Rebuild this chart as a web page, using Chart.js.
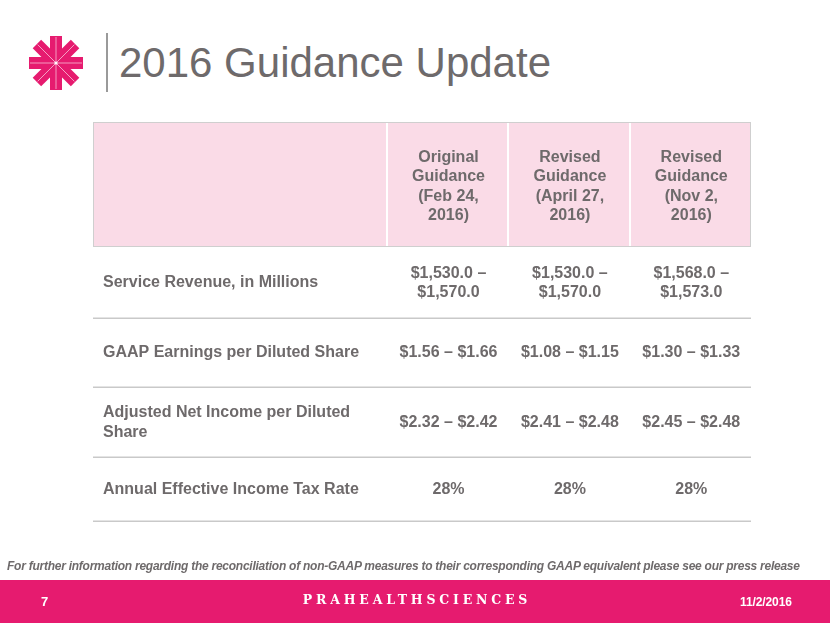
<!DOCTYPE html>
<html>
<head>
<meta charset="utf-8">
<script src="https://cdn.jsdelivr.net/npm/chart.js@4/dist/chart.umd.min.js"></script>
<style>
  html, body { margin: 0; padding: 0; }
  body { width: 830px; height: 623px; position: relative; overflow: hidden; background: #ffffff; font-family: "Liberation Sans", Arial, sans-serif; }
  #logo { position: absolute; left: 29px; top: 36px; }
  #vline { position: absolute; left: 106px; top: 33px; width: 2px; height: 59px; background: #9a9a9a; }
  #title { position: absolute; left: 119px; top: 38px; font-size: 42px; line-height: 50px; color: #6e6a6b; white-space: nowrap; }
  #chartWrap { position: absolute; left: 0; top: 0; width: 830px; height: 575px; }
  #note { position: absolute; left: 7px; top: 559px; font-size: 12px; font-weight: bold; font-style: italic; color: #6e6a6b; white-space: nowrap; letter-spacing: -0.25px; }
  #footer { position: absolute; left: 0; top: 580px; width: 830px; height: 43px; background: #e61b6f; color: #ffffff; }
  #pageNum { position: absolute; left: 41px; top: 14px; font-size: 13px; font-weight: bold; }
  #brand { position: absolute; left: 2px; width: 830px; top: 12px; text-align: center; font-family: "DejaVu Serif", serif; font-weight: bold; font-size: 12.5px; letter-spacing: 3.8px; }
  #date { position: absolute; left: 740px; top: 15px; font-size: 12px; font-weight: bold; letter-spacing: -0.1px; }
</style>
</head>
<body>
<svg id="logo" width="54" height="54" viewBox="-27 -27 54 54">
  <g fill="#e61b6f">
    <rect x="-27" y="-6" width="54" height="12" />
    <rect x="-27" y="-6" width="54" height="12" transform="rotate(45)" />
    <rect x="-27" y="-6" width="54" height="12" transform="rotate(90)" />
    <rect x="-27" y="-6" width="54" height="12" transform="rotate(135)" />
  </g>
  <g stroke="#f6a9c8" stroke-width="0.9">
    <line x1="-26" y1="0" x2="26" y2="0" />
    <line x1="-26" y1="0" x2="26" y2="0" transform="rotate(45)" />
    <line x1="-26" y1="0" x2="26" y2="0" transform="rotate(90)" />
    <line x1="-26" y1="0" x2="26" y2="0" transform="rotate(135)" />
  </g>
  <circle cx="0" cy="0" r="1.6" fill="#ffffff" />
</svg>
<div id="vline"></div>
<div id="title">2016 Guidance Update</div>
<div id="chartWrap"><canvas id="c" width="830" height="575"></canvas></div>
<div id="note">For further information regarding the reconciliation of non-GAAP measures to their corresponding GAAP equivalent please see our press release</div>
<div id="footer">
  <div id="pageNum">7</div>
  <div id="brand">PRAHEALTHSCIENCES</div>
  <div id="date">11/2/2016</div>
</div>
<script>
// ---- data ----
const columnHeaders = [
  ["Original", "Guidance", "(Feb 24,", "2016)"],
  ["Revised", "Guidance", "(April 27,", "2016)"],
  ["Revised", "Guidance", "(Nov 2,", "2016)"]
];
const rowLabels = [
  ["Service Revenue, in Millions"],
  ["GAAP Earnings per Diluted Share"],
  ["Adjusted Net Income per Diluted", "Share"],
  ["Annual Effective Income Tax Rate"]
];
const originalGuidance = [["$1,530.0 \u2013", "$1,570.0"], ["$1.56 \u2013 $1.66"], ["$2.32 \u2013 $2.42"], ["28%"]];
const aprilGuidance    = [["$1,530.0 \u2013", "$1,570.0"], ["$1.08 \u2013 $1.15"], ["$2.41 \u2013 $2.48"], ["28%"]];
const novGuidance      = [["$1,568.0 \u2013", "$1,573.0"], ["$1.30 \u2013 $1.33"], ["$2.45 \u2013 $2.48"], ["28%"]];
const valueColumns = [originalGuidance, aprilGuidance, novGuidance];

// ---- layout (table units) ----
const LABEL_W = 2.42;                 // label column width, in data-column units
const HEADER_H = 125;                 // header row height, y units
const ROW_H = [71, 69, 70, 64];       // body row heights, y units
const nCols = columnHeaders.length;
const nRows = rowLabels.length;
const X_MAX = LABEL_W + nCols;
const rowEdges = [HEADER_H];
ROW_H.forEach(h => rowEdges.push(rowEdges[rowEdges.length - 1] + h));
const Y_MAX = rowEdges[rowEdges.length - 1];

const TEXT = '#6e6a6b';
const FONT = '"Liberation Sans", Arial, sans-serif';
const LINE_H = 19.6;

function cellDataset(name, points, texts, align, dy) {
  return {
    label: name,
    data: points,
    texts: texts,
    align: align,
    dy: dy,
    pointRadius: 0,
    pointHoverRadius: 0,
    showLine: false
  };
}

const rowMid = j => (rowEdges[j] + rowEdges[j + 1]) / 2;
const datasets = [];
datasets.push(cellDataset('header',
  columnHeaders.map((h, i) => ({ x: LABEL_W + i + 0.5, y: HEADER_H / 2 })),
  columnHeaders, 'center', 2));
datasets.push(cellDataset('rows',
  rowLabels.map((r, j) => ({ x: 0, y: rowMid(j) })),
  rowLabels, 'left', 0.5));
valueColumns.forEach((col, i) => {
  datasets.push(cellDataset('col' + i,
    col.map((v, j) => ({ x: LABEL_W + i + 0.5, y: rowMid(j) })),
    col, 'center', 0.5));
});

const tablePlugin = {
  id: 'tablePlugin',
  beforeDatasetsDraw(chart) {
    const ctx = chart.ctx;
    const xs = chart.scales.x, ys = chart.scales.y;
    const left = xs.getPixelForValue(0), right = xs.getPixelForValue(X_MAX);
    const top = ys.getPixelForValue(0), hb = ys.getPixelForValue(HEADER_H);
    ctx.save();
    ctx.fillStyle = '#fadbe7';
    ctx.fillRect(left, top, right - left, hb - top);
    ctx.strokeStyle = '#cfcfcf';
    ctx.lineWidth = 1;
    ctx.strokeRect(left + 0.5, top + 0.5, right - left - 1, hb - top - 1);
    ctx.strokeStyle = '#ffffff';
    ctx.lineWidth = 2;
    for (let i = 0; i < nCols; i++) {
      const x = Math.round(xs.getPixelForValue(LABEL_W + i));
      ctx.beginPath();
      ctx.moveTo(x, top + 1);
      ctx.lineTo(x, hb - 1);
      ctx.stroke();
    }
    ctx.strokeStyle = '#c9c9c9';
    ctx.lineWidth = 1.5;
    for (let j = 1; j <= nRows; j++) {
      const y = Math.round(ys.getPixelForValue(rowEdges[j])) + 0.25;
      ctx.beginPath();
      ctx.moveTo(left, y);
      ctx.lineTo(right, y);
      ctx.stroke();
    }
    ctx.restore();
  },
  afterDatasetsDraw(chart) {
    const ctx = chart.ctx;
    ctx.save();
    ctx.fillStyle = TEXT;
    ctx.font = 'bold 16px ' + FONT;
    ctx.textBaseline = 'middle';
    chart.data.datasets.forEach((ds, di) => {
      const meta = chart.getDatasetMeta(di);
      meta.data.forEach((el, k) => {
        const lines = ds.texts[k];
        const n = lines.length;
        ctx.textAlign = ds.align;
        const x = ds.align === 'left' ? el.x + 10 : el.x + 1;
        lines.forEach((line, li) => {
          const y = el.y + (li - (n - 1) / 2) * LINE_H + ds.dy;
          ctx.fillText(line, x, y);
        });
      });
    });
    ctx.restore();
  }
};

new Chart(document.getElementById('c'), {
  type: 'scatter',
  data: { datasets: datasets },
  options: {
    responsive: false,
    animation: false,
    events: [],
    layout: { padding: { left: 93, right: 830 - 751, top: 122, bottom: 575 - 521 } },
    plugins: { legend: { display: false }, tooltip: { enabled: false } },
    scales: {
      x: { type: 'linear', min: 0, max: X_MAX, display: false },
      y: { type: 'linear', min: 0, max: Y_MAX, reverse: true, display: false }
    }
  },
  plugins: [tablePlugin]
});
</script>
</body>
</html>
